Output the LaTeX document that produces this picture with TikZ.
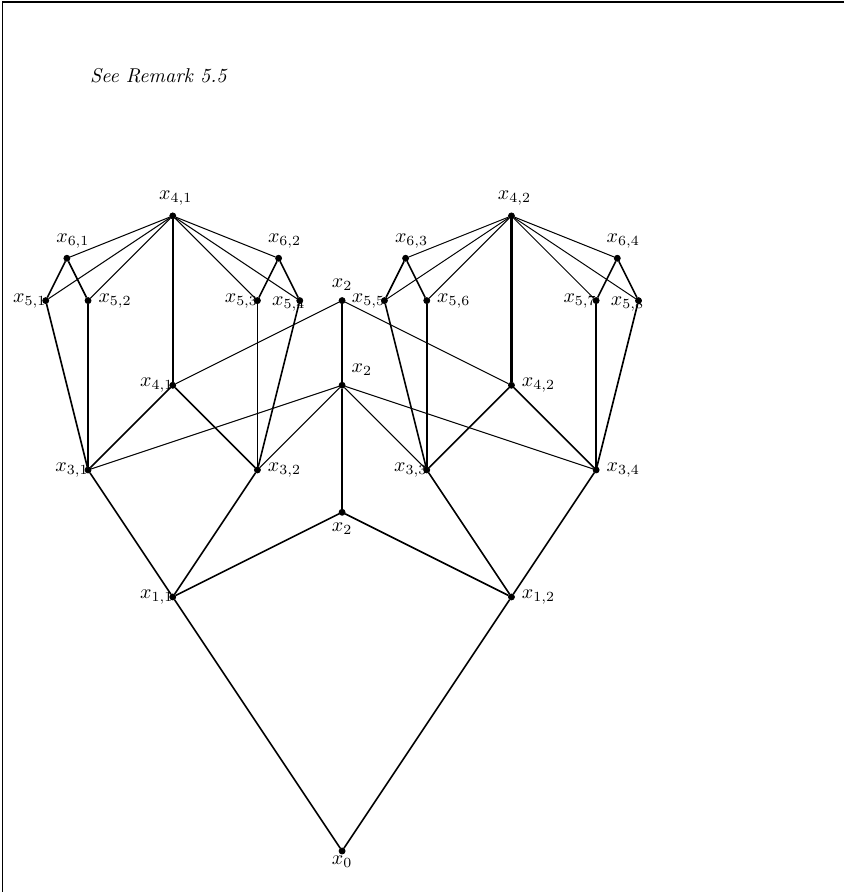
\documentclass[tikz,border=0pt]{standalone}
\usepackage{tikz}

\tikzset{
  sommet/.style={circle, draw, fill=black, inner sep=0pt, minimum size=3pt},
  gauche/.style={label distance=-5.5pt},
}

\begin{document}
\begin{tikzpicture}[x=1.488cm, y=1.488cm]

  % Cadre et taille de la page
  \useasboundingbox (-4.04,-0.484) rectangle (5.929,10.05);
  \draw[line width=0.6pt] (5.929,10.027) -- (-4.015,10.027) -- (-4.015,-0.484);

  \node[anchor=base west, inner sep=0pt] (remarque) at (-2.98,9.07) {\textit{See Remark 5.5}};

  % Sommets du bas
  \node[sommet, label={[label distance=-3pt]below:$x_0$}] (x0) at (0,0) {};
  \node[sommet, label={[gauche]left:$x_{1,1}$}] (x11) at (-2,3) {};
  \node[sommet, label=right:$x_{1,2}$] (x12) at (2,3) {};
  \node[sommet, label=below:$x_2$] (x2a) at (0,4) {};
  \node[sommet, label=above right:$x_2$] (x2b) at (0,5.5) {};
  \node[sommet, label=above:$x_2$] (x2c) at (0,6.5) {};

  % Niveau 3
  \node[sommet, label={[gauche]left:$x_{3,1}$}] (x31) at (-3,4.5) {};
  \node[sommet, label=right:$x_{3,2}$] (x32) at (-1,4.5) {};
  \node[sommet, label={[gauche]left:$x_{3,3}$}] (x33) at (1,4.5) {};
  \node[sommet, label=right:$x_{3,4}$] (x34) at (3,4.5) {};

  % Niveau 4
  \node[sommet, label={[gauche]left:$x_{4,1}$}] (x41b) at (-2,5.5) {};
  \node[sommet, label=right:$x_{4,2}$] (x42b) at (2,5.5) {};
  \node[sommet, label={[xshift=1.5pt]above:$x_{4,1}$}] (x41h) at (-2,7.5) {};
  \node[sommet, label={[xshift=1.5pt]above:$x_{4,2}$}] (x42h) at (2,7.5) {};

  % Niveaux 5 et 6
  \node[sommet, label={[gauche]left:$x_{5,1}$}] (x51) at (-3.5,6.5) {};
  \node[sommet, label=right:$x_{5,2}$] (x52) at (-3,6.5) {};
  \node[sommet, label={[gauche]left:$x_{5,3}$}] (x53) at (-1,6.5) {};
  \node[sommet, label={[label distance=-8pt, yshift=-1.5pt]left:$x_{5,4}$}] (x54) at (-0.5,6.5) {};
  \node[sommet, label={[gauche]left:$x_{5,5}$}] (x55) at (0.5,6.5) {};
  \node[sommet, label=right:$x_{5,6}$] (x56) at (1,6.5) {};
  \node[sommet, label={[gauche]left:$x_{5,7}$}] (x57) at (3,6.5) {};
  \node[sommet, label={[label distance=-8pt, yshift=-1.5pt]left:$x_{5,8}$}] (x58) at (3.5,6.5) {};

  \node[sommet, label={[xshift=3pt]above:$x_{6,1}$}] (x61) at (-3.25,7) {};
  \node[sommet, label={[xshift=3pt]above:$x_{6,2}$}] (x62) at (-0.75,7) {};
  \node[sommet, label={[xshift=3pt]above:$x_{6,3}$}] (x63) at (0.75,7) {};
  \node[sommet, label={[xshift=3pt]above:$x_{6,4}$}] (x64) at (3.25,7) {};

  % Aretes principales
  \foreach \a/\b in {x0/x11, x0/x12, x11/x31, x11/x32, x11/x2a, x12/x33, x12/x34, x12/x2a,
                     x31/x41b, x32/x41b, x33/x42b, x34/x42b,
                     x31/x51, x31/x52, x32/x53, x32/x54, x33/x55, x33/x56, x34/x57, x34/x58,
                     x61/x51, x61/x52, x62/x53, x62/x54, x63/x55, x63/x56, x64/x57, x64/x58} {
    \draw[thick] (\a) -- (\b);
  }

  % Aretes verticales
  \foreach \a/\b in {x2a/x2b, x2b/x2c, x41b/x41h, x42b/x42h} {
    \draw[very thick] (\a) -- (\b);
  }

  % Aretes fines
  \foreach \a/\b in {x41h/x61, x41h/x51, x41h/x52, x41h/x53, x41h/x54, x41h/x62,
                     x42h/x63, x42h/x55, x42h/x56, x42h/x57, x42h/x58, x42h/x64,
                     x2c/x41b, x2c/x42b, x2b/x31, x2b/x32, x2b/x33, x2b/x34} {
    \draw[line width=0.5pt] (\a) -- (\b);
  }

\end{tikzpicture}
\end{document}
